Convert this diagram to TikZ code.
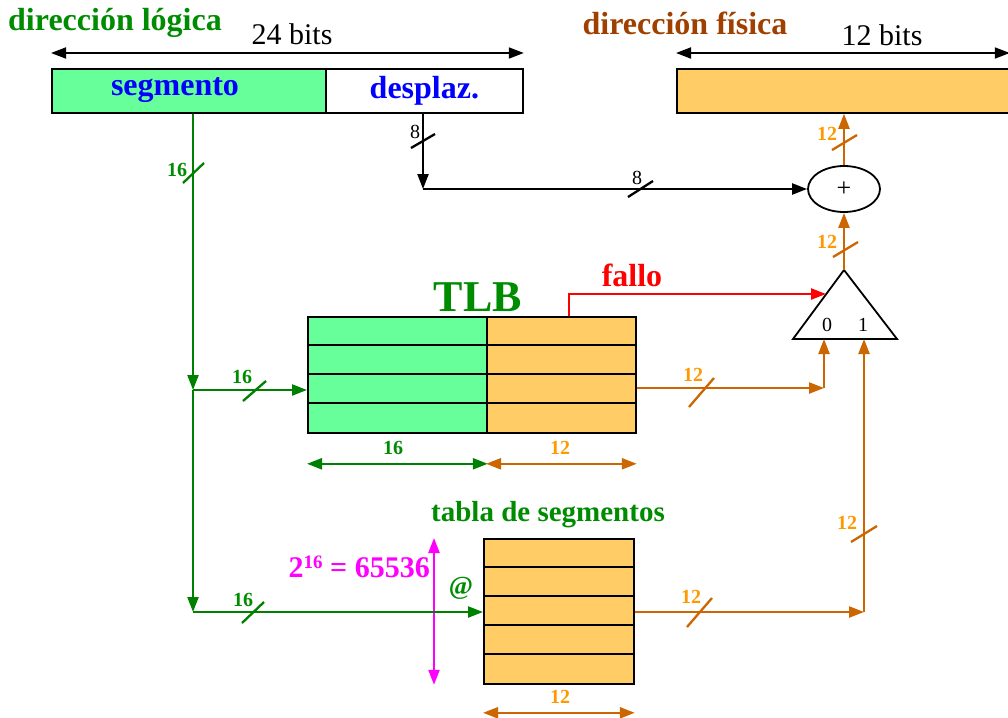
\documentclass[tikz,border=0pt]{standalone}
\usepackage{fontspec}
\setmainfont{Liberation Serif}
\usetikzlibrary{arrows.meta,positioning,shapes.geometric}
\definecolor{segverde}{RGB}{102,255,153}
\definecolor{naranja}{RGB}{255,204,102}
\definecolor{verdet}{RGB}{0,140,0}
\definecolor{verdeo}{RGB}{0,128,0}
\definecolor{cable}{RGB}{204,102,0}
\definecolor{numnar}{RGB}{255,153,0}
\definecolor{marron}{RGB}{160,64,0}
\definecolor{rosa}{RGB}{255,0,255}
\begin{document}
\begin{tikzpicture}[x=1pt,y=-1pt,>={Triangle[length=15pt,width=11pt]},
	caja/.style={draw,line width=1.8pt,anchor=north west,inner sep=0pt},
	linea/.style={line width=2.3pt},
	verdel/.style={linea,color=verdeo},
	naral/.style={linea,color=cable},
	titulo/.style={font=\fontsize{32}{32}\selectfont\bfseries,inner sep=0pt},
	num/.style={font=\fontsize{20}{20}\selectfont\bfseries,inner sep=0pt},
	fino/.style={font=\fontsize{20}{20}\selectfont,inner sep=0pt}]
	\useasboundingbox (0,0) rectangle (1008,717);
	% direcciones logica y fisica
	\node[caja,fill=segverde,minimum width=274pt,minimum height=44pt] (seg) at (51,68) {};
	\node[titulo,text=blue] (tseg) at (175,90) {segmento};
	\node[caja,fill=white,minimum width=197pt,minimum height=44pt,text=blue,titulo] (desp) at (325,68) {desplaz.};
	\node[caja,fill=naranja,minimum width=340pt,minimum height=44pt] (fis) at (676,68) {};
	\node[titulo,text=verdet] (dlog) at (115,23) {dirección lógica};
	\node[font=\fontsize{30}{30}\selectfont,inner sep=0pt] (b24) at (292,34) {24 bits};
	\draw[<->,line width=1.8pt] ([yshift=15pt]seg.north west) -- ([yshift=15pt]desp.north east);
	\node[titulo,text=marron] (dfis) at (685,23) {dirección física};
	\node[font=\fontsize{30}{30}\selectfont,inner sep=0pt] (b12) at (882,35) {12 bits};
	\draw[<->,line width=1.8pt] ([yshift=15pt]fis.north west) -- ([yshift=15pt,xshift=-8pt]fis.north east);
	% TLB
	\node[caja,fill=segverde,minimum width=179pt,minimum height=116pt] (tlbL) at (307,316) {};
	\node[caja,fill=naranja,minimum width=149pt,minimum height=116pt] (tlbR) at (486,316) {};
	\foreach \y in {345,374,403} \draw[line width=1.8pt] (307,\y) -- (635,\y);
	\node[font=\fontsize{44}{44}\selectfont\bfseries,text=verdet,inner sep=0pt] (tlb) at (478,297) {TLB};
	\draw[verdel,<->] ([yshift=-30pt]tlbL.south west) -- ([yshift=-30pt]tlbL.south east);
	\draw[naral,<->] ([yshift=-30pt]tlbR.south west) -- ([yshift=-30pt]tlbR.south east);
	\node[num,text=verdet] (a16) at (393,448) {16};
	\node[num,text=numnar] (a12) at (560,448) {12};
	% tabla de segmentos
	\node[caja,fill=naranja,minimum width=150pt,minimum height=145pt] (tabla) at (483,538) {};
	\foreach \y in {567,596,625,654} \draw[line width=1.8pt] (483,\y) -- (633,\y);
	\node[font=\fontsize{29}{29}\selectfont\bfseries,text=verdet,inner sep=0pt] (ttabla) at (548,515) {tabla de segmentos};
	\draw[linea,rosa,<->] ([xshift=-49pt]tabla.north west) -- ([xshift=-49pt]tabla.south west);
	\node[font=\fontsize{30}{30}\selectfont\bfseries,inner sep=0pt,text=rosa,anchor=east] (tam) at (430,567) {2\raisebox{9pt}{\fontsize{19}{19}\selectfont 16} = 65536};
	\node[font=\fontsize{26}{26}\selectfont\bfseries,text=verdet,inner sep=0pt] (arroba) at (461,588) {@};
	\draw[naral,<->] ([yshift=-28pt]tabla.south west) -- ([yshift=-28pt]tabla.south east);
	\node[num,text=numnar] (b12t) at (560,697) {12};
	% sumador y multiplexor
	\node[draw,ellipse,line width=1.8pt,minimum width=72pt,minimum height=46pt,inner sep=0pt,font=\fontsize{26}{26}\selectfont] (suma) at (844,189) {+};
	\coordinate (mux) at (844,270);
	\coordinate (muxL) at (793,339);
	\coordinate (muxR) at (897,339);
	\draw[line width=1.8pt] (mux) -- (muxR) -- (muxL) -- cycle;
	\node[fino] (m0) at (827,325) {0};
	\node[fino] (m1) at (863,325) {1};
	% desplazamiento
	\coordinate (cd) at (423,189);
	\draw[linea,->] (desp.south -| cd) -- (cd);
	\draw[linea,->] (cd) -- (suma.west);
	\draw[linea] (411,148) -- (435,134);
	\node[fino] (n8a) at (415,132) {8};
	\draw[linea] (628,197) -- (653,181);
	\node[fino] (n8b) at (637,178) {8};
	% segmento
	\coordinate (j1) at (193,390);
	\coordinate (j2) at (193,612);
	\draw[verdel,->] (seg.south -| j1) -- (j1);
	\draw[verdel,->] (j1) -- (j2);
	\draw[verdel,->] (j1) -- (j1 -| tlbL.west);
	\draw[verdel,->] (j2) -- (j2 -| tabla.west);
	\draw[verdel] (183,183) -- (204,163);
	\draw[verdel] (243,401) -- (266,381);
	\draw[verdel] (242,623) -- (264,602);
	\node[num,text=verdet] (s1) at (177,170) {16};
	\node[num,text=verdet] (s2) at (242,377) {16};
	\node[num,text=verdet] (s3) at (243,600) {16};
	% marcos
	\coordinate (t0) at (824,388);
	\coordinate (t1) at (864,612);
	\draw[naral,->] (suma.north) -- (suma.north |- fis.south);
	\draw[naral,->] (mux) -- (suma.south);
	\draw[naral,->] (t0 -| tlbR.east) -- (t0);
	\draw[naral,->] (t0) -- (t0 |- muxL);
	\draw[naral,->] (t1 -| tabla.east) -- (t1);
	\draw[naral,->] (t1) -- (t1 |- muxL);
	\draw[naral] (832,150) -- (857,135);
	\draw[naral] (833,257) -- (858,242);
	\draw[naral] (689,407) -- (714,378);
	\draw[naral] (851,542) -- (877,526);
	\draw[naral] (687,627) -- (712,598);
	\node[num,text=numnar] (c1) at (827,134) {12};
	\node[num,text=numnar] (c2) at (827,242) {12};
	\node[num,text=numnar] (c3) at (693,375) {12};
	\node[num,text=numnar] (c4) at (847,523) {12};
	\node[num,text=numnar] (c5) at (691,597) {12};
	% fallo de TLB
	\coordinate (f0) at (569,294);
	\coordinate (f1) at (826,294);
	\draw[linea,red,->] (tlbR.north -| f0) -- (f0) -- (f1);
	\node[titulo,text=red] (fallo) at (632,275) {fallo};
\end{tikzpicture}
\end{document}
